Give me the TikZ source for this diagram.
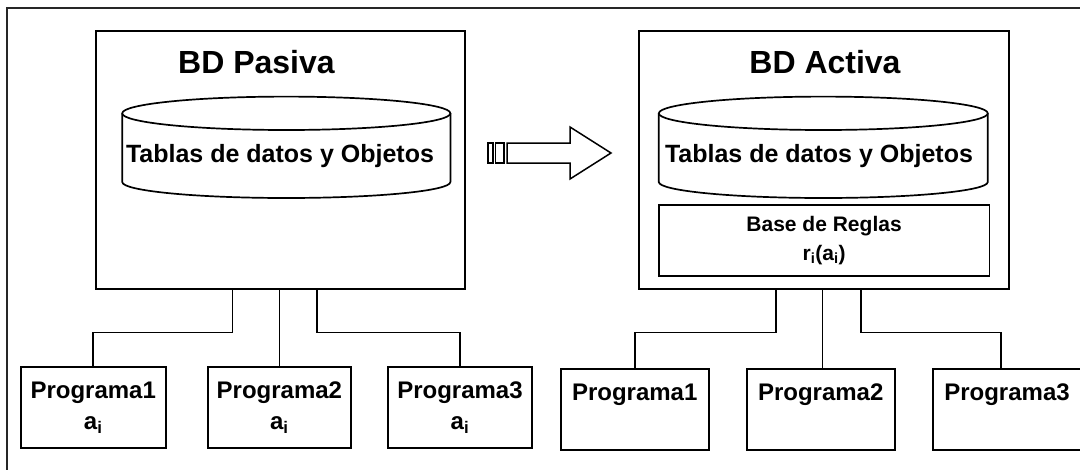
\documentclass[tikz,border=0pt]{standalone}
\usepackage{fontspec}
\setmainfont{Liberation Sans}
\usetikzlibrary{positioning}

\tikzset{
	marco/.style={draw, line width=2.2pt, minimum width=369pt, minimum height=258.6pt, inner sep=0pt},
	prog/.style={draw, line width=2pt, minimum width=145pt, minimum height=81pt, inner sep=0pt,
		align=center, font=\fontsize{24}{31}\selectfont\bfseries},
	enlace/.style={line width=1.8pt},
	titulo/.style={font=\fontsize{32}{38}\selectfont\bfseries, inner sep=0pt, anchor=base},
	tabla/.style={font=\fontsize{25}{30}\selectfont\bfseries, inner sep=0pt, anchor=base},
	cil/.style={line width=1.7pt}
}

\begin{document}
\begin{tikzpicture}[x=1pt, y=-1pt]
	\useasboundingbox (0,0) rectangle (1080,469);
	\clip (0,0) rectangle (1080,469);
	% marco exterior
	\draw[line width=2pt, black!85] (7.3,8.3) rectangle (1100,500);

	% BD pasiva
	\node[marco] (pasiva) at (280.3,160) {};
	\node[titulo] (tpasiva) at (256.5,73.5) {BD Pasiva};
	\draw[cil] (286.3,113.3) ellipse [x radius=164.1, y radius=16.7];
	\draw[cil] (122.2,113.3) -- (122.2,182) arc[start angle=180, end angle=0, x radius=164.1, y radius=16] -- (450.4,113.3);
	\node[tabla] (datos1) at (280,162.3) {Tablas de datos y Objetos};

	% flecha de paso
	\draw[line width=1.4pt] (488,143) rectangle (493,163);
	\draw[line width=1.4pt] (495.5,143) rectangle (504,163);
	\draw[line width=1.5pt] (507,143) -- (570,143) -- (570,127) -- (611,153) -- (570,179) -- (570,163) -- (507,163) -- cycle;

	% BD activa
	\node[marco, minimum width=370pt] (activa) at (823.9,160) {};
	\node[titulo] (tactiva) at (825,73.5) {BD Activa};
	\draw[cil] (823.3,113.3) ellipse [x radius=164.5, y radius=16.7];
	\draw[cil] (658.8,113.3) -- (658.8,182) arc[start angle=180, end angle=0, x radius=164.5, y radius=16] -- (987.7,113.3);
	\node[tabla] (datos2) at (819,162.3) {Tablas de datos y Objetos};
	\node[draw, line width=1.6pt, minimum width=330.6pt, minimum height=71pt, inner sep=0pt, align=center,
		font=\fontsize{21}{29}\selectfont\bfseries] (reglas) at (824.1,240.5)
		{Base de Reglas\\ r\textsubscript{i}(a\textsubscript{i})};

	% programas
	\node[prog] (p1) at (93.2,407.5) {Programa1\\ a\textsubscript{i}};
	\node[prog, minimum width=143.6pt] (p2) at (279.4,407.5) {Programa2\\ a\textsubscript{i}};
	\node[prog, minimum width=144pt] (p3) at (460,407.5) {Programa3\\ a\textsubscript{i}};
	\node[prog, minimum width=148pt] (q1) at (634.7,409.5) {Programa1\\ \phantom{a\textsubscript{i}}};
	\node[prog, minimum width=148pt] (q2) at (820.7,409.5) {Programa2\\ \phantom{a\textsubscript{i}}};
	\node[prog, minimum width=148pt] (q3) at (1007,409.5) {Programa3\\ \phantom{a\textsubscript{i}}};

	% conexiones
	\draw[enlace] ([xshift=-47.9pt]pasiva.south) -- ++(0,42) -| (p1.north);
	\draw[enlace] (p2.north |- pasiva.south) -- (p2.north);
	\draw[enlace] ([xshift=36.5pt]pasiva.south) -- ++(0,42) -| (p3.north);
	\draw[enlace] ([xshift=-48pt]activa.south) -- ++(0,42) -| (q1.north);
	\draw[enlace] ([xshift=-1.5pt]activa.south) -- ([xshift=1.7pt]q2.north);
	\draw[enlace] ([xshift=37.1pt]activa.south) -- ++(0,42) -| ([xshift=-6pt]q3.north);
\end{tikzpicture}
\end{document}
